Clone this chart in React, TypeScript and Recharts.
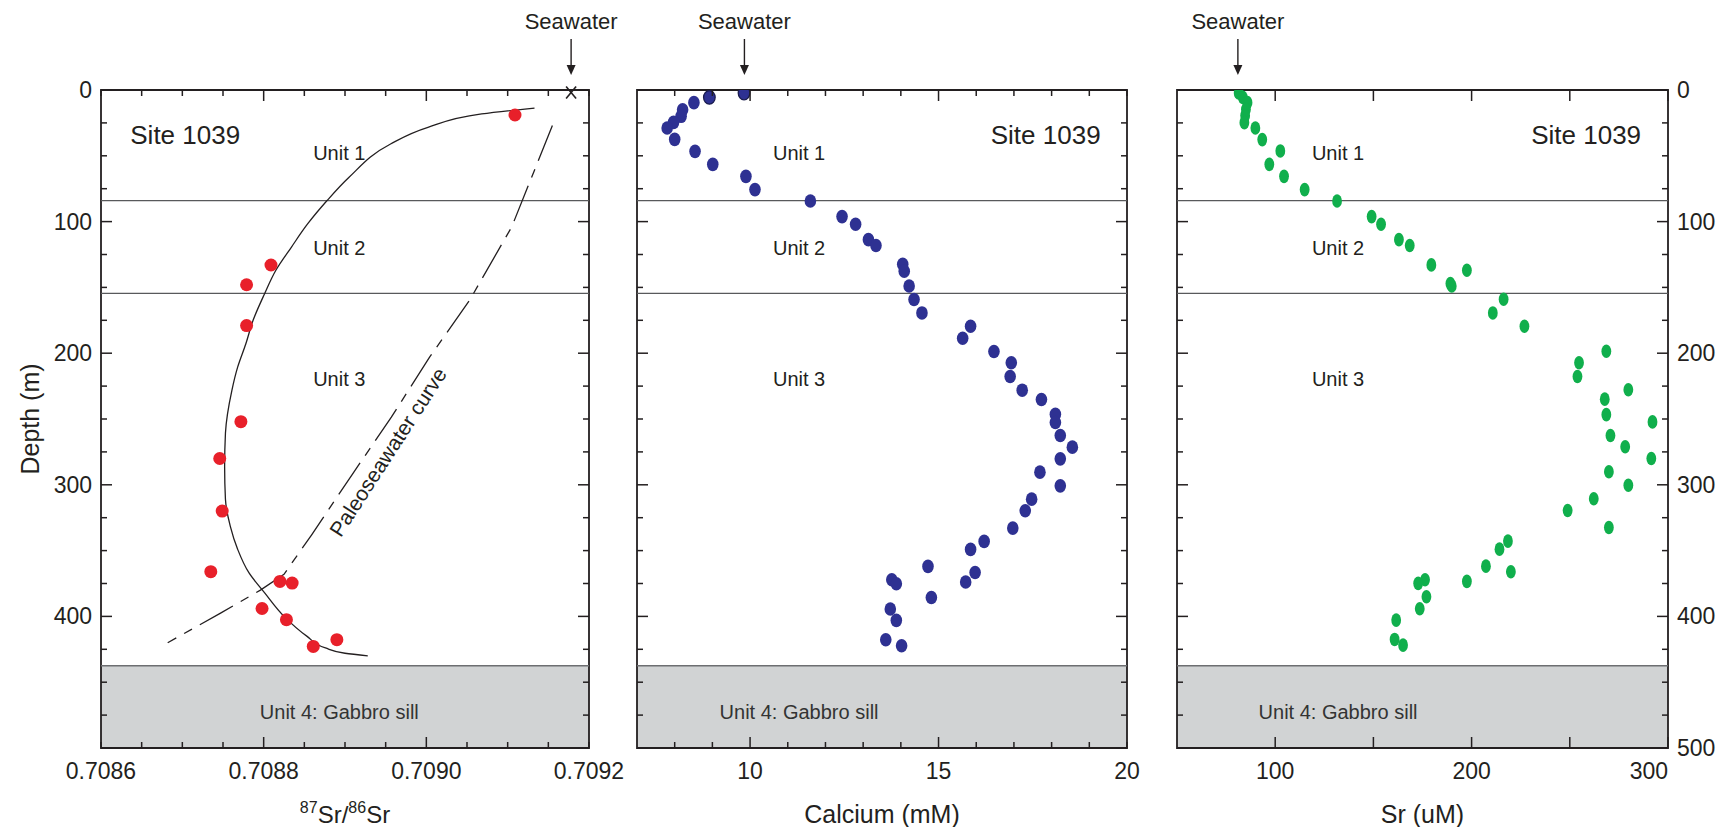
import React from "react";
import {
  ReferenceArea,
  ReferenceDot,
  ReferenceLine,
  Scatter,
  ScatterChart,
  XAxis,
  YAxis,
} from "recharts";

const INK = "#231F20";
const FONT = "'Liberation Sans', Arial, Helvetica, sans-serif";

// --- Site 1039 pore-water profiles (depth in mbsf) ---

const ratioDepth = [19, 133, 148, 179, 252, 280, 320, 366, 373.4, 374.7, 394, 402.5, 417.7, 422.8];
const ratioValue = [
  0.709109, 0.708809, 0.708779, 0.708779, 0.708772, 0.708746, 0.708749, 0.708735, 0.70882, 0.708835,
  0.708798, 0.708828, 0.70889, 0.708861,
];

// hand-drawn fit through the 87Sr/86Sr data
const fitDepth = [13.7, 18.2, 28.4, 41, 66.3, 84, 101.8, 119.5, 137, 155, 175, 193, 210.6, 228, 260.8, 286, 311, 331.6, 349, 367, 382, 400, 415, 424, 428, 430];
const fitValue = [
  0.709133, 0.709068, 0.709002, 0.708956, 0.708905, 0.708878, 0.708854, 0.708834, 0.708815,
  0.708801, 0.708787, 0.708778, 0.708768, 0.708761, 0.708753, 0.708752, 0.708753, 0.708759, 0.708768,
  0.708782, 0.708801, 0.708825, 0.708853, 0.708876, 0.7089, 0.708928,
];

// paleoseawater curve mapped onto depth
const paleoDepth = [27, 104, 160, 203, 248.6, 292, 338, 368, 380, 397.5, 420];
const paleoValue = [0.709155, 0.709105, 0.709053, 0.709004, 0.708957, 0.708909, 0.708859, 0.708825, 0.708796, 0.708747, 0.708682];

const caDepth = [
  2.3, 5.6, 9.6, 15, 20, 24.6, 28.9, 37.5, 46.6, 56.5, 65.6, 75.7, 84.3, 96.2, 102, 113.7, 118.2, 132.4,
  137.7, 148.9, 159.2, 169.4, 179.5, 188.6, 198.7, 207.3, 217.7, 228.1, 235.2, 246.4, 252.7, 262.5, 271.4,
  280.3, 290.4, 300.8, 310.9, 319.7, 332.9, 343, 349.1, 362, 366.6, 373.9, 372.2, 375.2, 385.6, 394.4, 403,
  417.7, 422.3,
];
const caValue = [
  9.84, 8.92, 8.51, 8.21, 8.17, 7.97, 7.8, 8.0, 8.54, 9.01, 9.89, 10.13, 11.6, 12.44, 12.8, 13.14, 13.34,
  14.05, 14.09, 14.22, 14.35, 14.56, 15.85, 15.64, 16.47, 16.93, 16.9, 17.22, 17.73, 18.1, 18.1, 18.23,
  18.55, 18.23, 17.69, 18.23, 17.47, 17.3, 16.97, 16.21, 15.85, 14.72, 15.97, 15.72, 13.76, 13.88, 14.81,
  13.72, 13.88, 13.6, 14.02,
];

const srDepth = [
  2.3, 5.6, 9.6, 14.7, 19.5, 24.8, 28.9, 37.7, 46.3, 56.5, 65.6, 75.7, 84.3, 96.2, 102, 113.7, 118.2, 132.9,
  137, 147.1, 148.9, 159, 169.4, 179.5, 198.5, 207.3, 217.7, 227.8, 234.9, 246.7, 252.2, 262.5, 271.1, 280,
  290.1, 300.3, 310.6, 319.5, 332.4, 342.8, 348.9, 361.8, 366.1, 373.4, 372.2, 374.9, 385.1, 394.2, 402.8,
  417.5, 421.8,
];
const srValue = [
  81.4, 83.5, 85.9, 85.1, 84.7, 84.3, 89.9, 93.4, 102.6, 97.0, 104.5, 115.0, 131.5, 149.1, 153.9, 163.0,
  168.5, 179.5, 197.6, 189.2, 189.9, 216.3, 210.8, 226.9, 268.6, 254.7, 253.9, 279.8, 267.8, 268.6, 292.1,
  270.7, 278.2, 291.5, 269.9, 279.8, 262.2, 248.9, 269.9, 218.5, 214.2, 207.3, 220.0, 197.6, 176.3, 172.8,
  177.0, 173.6, 161.6, 160.8, 165.1,
];

const seawaterRatio = 0.709178;
const seawaterCa = 9.85;
const seawaterSr = 81;

// lithologic unit boundaries (mbsf)
const unitBase = [84, 154.5];
const sillTop = 437.5;
const depthDomain = [0, 500];
const unitLabelDepth = [48, 120, 219.6];
const sillLabelDepth = 472.6;

// axis ticks
const depthTicks = [0, 25, 50, 75, 100, 125, 150, 175, 200, 225, 250, 275, 300, 325, 350, 375, 400, 425, 450, 475, 500];
const depthMajor = [0, 100, 200, 300, 400, 500];
const ratioTicks = [0.7086, 0.70865, 0.7087, 0.70875, 0.7088, 0.70885, 0.7089, 0.70895, 0.709, 0.70905, 0.7091, 0.70915, 0.7092];
const ratioMajor = [0.7088, 0.709];
const ratioLabels = [0.7086, 0.7088, 0.709, 0.7092];
const caTicks = [8, 9, 10, 11, 12, 13, 14, 15, 16, 17, 18, 19, 20];
const caMajor = [10, 15];
const caLabels = [10, 15, 20];
const srTicks = [100, 150, 200, 250, 300];
const srLabels = [100, 200, 300];

const pairs = (xs: number[], ys: number[]) => xs.map((x, i) => ({ x, y: ys[i] }));
const near = (v: number, list: number[]) => list.some((m) => Math.abs(m - v) < 1e-9);

// ---- tick renderers: inward marks drawn from the axis line ----
function xTick(
  side: "top" | "bottom",
  major: number[],
  labels: number[],
  fmt: (v: number) => string,
  endAligned: number[] = [],
) {
  return (p: any) => {
    const v = p.payload.value;
    const len = near(v, major) ? 11 : 6;
    const dir = side === "bottom" ? -1 : 1;
    return (
      <g>
        <line x1={p.x} x2={p.x} y1={p.y} y2={p.y + dir * len} stroke={INK} strokeWidth={1.5} />
        {side === "bottom" && near(v, labels) && (
          <text
            x={p.x}
            y={p.y + 31}
            textAnchor={near(v, endAligned) ? "end" : "middle"}
            fontSize={23}
            fontFamily={FONT}
            fill={INK}
          >
            {fmt(v)}
          </text>
        )}
      </g>
    );
  };
}

function yTick(side: "left" | "right", labels: number[]) {
  return (p: any) => {
    const v = p.payload.value;
    const len = near(v, depthMajor) ? 11 : 6;
    const dir = side === "left" ? 1 : -1;
    return (
      <g>
        <line x1={p.x} x2={p.x + dir * len} y1={p.y} y2={p.y} stroke={INK} strokeWidth={1.5} />
        {near(v, labels) && (
          <text
            x={side === "left" ? p.x - 9 : p.x + 9}
            y={p.y}
            dy="0.35em"
            textAnchor={side === "left" ? "end" : "start"}
            fontSize={23}
            fontFamily={FONT}
            fill={INK}
          >
            {v}
          </text>
        )}
      </g>
    );
  };
}

// ---- annotation helpers (anchored in data space) ----
function note(
  key: string,
  x: number,
  y: number,
  str: string,
  size: number,
  anchor: "start" | "middle" | "end",
  opts: { fill?: string; rotate?: number; dx?: number; dy?: number } = {},
) {
  const { fill = INK, rotate = 0, dx = 0, dy = 0 } = opts;
  return (
    <ReferenceDot
      key={key}
      x={x}
      y={y}
      ifOverflow="visible"
      shape={(p: any) => {
        const tx = p.cx + dx;
        const ty = p.cy + dy;
        return (
          <text
            x={tx}
            y={ty}
            dy="0.35em"
            fontSize={size}
            fontFamily={FONT}
            fill={fill}
            textAnchor={anchor}
            transform={rotate ? `rotate(${rotate} ${tx} ${ty})` : undefined}
          >
            {str}
          </text>
        );
      }}
    />
  );
}

function seawaterArrow(x: number, withCross: boolean) {
  return (
    <ReferenceDot
      x={x}
      y={0}
      ifOverflow="visible"
      shape={(p: any) => (
        <g>
          <text x={p.cx} y={p.cy - 61} textAnchor="middle" fontSize={22} fontFamily={FONT} fill={INK}>
            Seawater
          </text>
          <line x1={p.cx} x2={p.cx} y1={p.cy - 51} y2={p.cy - 22} stroke={INK} strokeWidth={1.4} />
          <path d={`M${p.cx - 4.5},${p.cy - 25} L${p.cx + 4.5},${p.cy - 25} L${p.cx},${p.cy - 15} Z`} fill={INK} />
          {withCross && (
            <g stroke={INK} strokeWidth={1.6}>
              <line x1={p.cx - 5} y1={p.cy - 3.5} x2={p.cx + 5} y2={p.cy + 8.5} />
              <line x1={p.cx + 5} y1={p.cy - 3.5} x2={p.cx - 5} y2={p.cy + 8.5} />
            </g>
          )}
        </g>
      )}
    />
  );
}

function xTitle(x: number, content: React.ReactNode) {
  return (
    <ReferenceDot
      x={x}
      y={500}
      ifOverflow="visible"
      shape={(p: any) => (
        <text x={p.cx} y={p.cy + 75} textAnchor="middle" fontSize={25} fontFamily={FONT} fill={INK}>
          {content}
        </text>
      )}
    />
  );
}

const RED = "#E8202A";
const BLUE = "#2E3192";
const GREEN = "#10AF4C";
const SILL = "#D1D3D4";

const dot = (fill: string, rx: number, ry: number) => (p: any) =>
  p.payload && p.payload.y < 6 && fill === BLUE ? (
    <ellipse cx={p.cx} cy={p.cy} rx={rx} ry={ry} fill={fill} stroke="#1B1D4F" strokeWidth={1.3} />
  ) : (
    <ellipse cx={p.cx} cy={p.cy} rx={rx} ry={ry} fill={fill} />
  );

const CHART_H = 827;
const MARGIN_TOP = 89;
const MARGIN_BOTTOM = 78;

function frame(xDomain: number[]) {
  return [
    <ReferenceArea
      key="sill"
      x1={xDomain[0]}
      x2={xDomain[1]}
      y1={sillTop}
      y2={500}
      fill={SILL}
      fillOpacity={1}
      stroke="none"
      ifOverflow="visible"
    />,
    <ReferenceLine key="sillTop" y={sillTop} stroke="#6D6E71" strokeWidth={1.5} />,
    ...unitBase.map((d) => <ReferenceLine key={`u${d}`} y={d} stroke="#58595B" strokeWidth={1.3} />),
  ];
}

function border(xDomain: number[]) {
  return (
    <ReferenceArea
      x1={xDomain[0]}
      x2={xDomain[1]}
      y1={0}
      y2={500}
      fill="none"
      stroke={INK}
      strokeWidth={1.8}
      ifOverflow="visible"
    />
  );
}

function unitNotes(prefix: string, x: number) {
  return [
    ...unitLabelDepth.map((d, i) => note(`${prefix}u${i}`, x, d, `Unit ${i + 1}`, 20, "middle")),
    note(`${prefix}sill`, x, sillLabelDepth, "Unit 4: Gabbro sill", 20, "middle", { fill: "#333333" }),
  ];
}

// shared axis props: zero-length built-in ticks, custom inward marks
const axisBase = {
  type: "number" as const,
  allowDataOverflow: true,
  interval: 0 as const,
  tickSize: 0,
  tickMargin: 0,
  tickLine: false,
  axisLine: false,
};

function RatioPanel() {
  const dom = [0.7086, 0.7092];
  const fmt = (v: number) => v.toFixed(4);
  return (
    <ScatterChart width={640} height={CHART_H} margin={{ top: MARGIN_TOP, right: 50, bottom: MARGIN_BOTTOM, left: 100 }}>
      <XAxis {...axisBase} dataKey="x" domain={dom} ticks={ratioTicks} height={1} tick={xTick("bottom", ratioMajor, ratioLabels, fmt)} />
      <XAxis {...axisBase} xAxisId="top" orientation="top" dataKey="x" domain={dom} ticks={ratioTicks} height={1} tick={xTick("top", ratioMajor, ratioLabels, fmt)} />
      <YAxis {...axisBase} dataKey="y" domain={depthDomain} reversed ticks={depthTicks} width={1} tick={yTick("left", [0, 100, 200, 300, 400])} />
      <YAxis {...axisBase} yAxisId="right" orientation="right" dataKey="y" domain={depthDomain} reversed ticks={depthTicks} width={1} tick={yTick("right", [])} />
      {frame(dom)}
      <Scatter
        data={pairs(paleoValue, paleoDepth)}
        shape={() => <g />}
        line={{ stroke: INK, strokeWidth: 1.3, strokeDasharray: "38 9 9 9" }}
        lineJointType="linear"
        isAnimationActive={false}
      />
      <Scatter
        data={pairs(fitValue, fitDepth)}
        shape={() => <g />}
        line={{ stroke: INK, strokeWidth: 1.3 }}
        lineJointType="monotoneY"
        isAnimationActive={false}
      />
      <Scatter data={pairs(ratioValue, ratioDepth)} shape={dot(RED, 6.5, 6.5)} isAnimationActive={false} />
      {border(dom)}
      {seawaterArrow(seawaterRatio, true)}
      {note("site", 0.708636, 34.2, "Site 1039", 26, "start")}
      {unitNotes("r", 0.708893)}
      {note("paleo", 0.708953, 275, "Paleoseawater curve", 21, "middle", { rotate: -57 })}
      {note("depth", 0.7086, 250, "Depth (m)", 25, "middle", { rotate: -90, dx: -71 })}
      {xTitle(0.7089, (
        <>
          <tspan fontSize={16} dy={-10}>87</tspan>
          <tspan fontSize={24} dy={10}>Sr/</tspan>
          <tspan fontSize={16} dy={-10}>86</tspan>
          <tspan fontSize={24} dy={10}>Sr</tspan>
        </>
      ))}
    </ScatterChart>
  );
}

function CalciumPanel() {
  const dom = [7, 20];
  const fmt = (v: number) => String(v);
  return (
    <ScatterChart width={560} height={CHART_H} margin={{ top: MARGIN_TOP, right: 32, bottom: MARGIN_BOTTOM, left: 36 }}>
      <XAxis {...axisBase} dataKey="x" domain={dom} ticks={caTicks} height={1} tick={xTick("bottom", caMajor, caLabels, fmt)} />
      <XAxis {...axisBase} xAxisId="top" orientation="top" dataKey="x" domain={dom} ticks={caTicks} height={1} tick={xTick("top", caMajor, caLabels, fmt)} />
      <YAxis {...axisBase} dataKey="y" domain={depthDomain} reversed ticks={depthTicks} width={1} tick={yTick("left", [])} />
      <YAxis {...axisBase} yAxisId="right" orientation="right" dataKey="y" domain={depthDomain} reversed ticks={depthTicks} width={1} tick={yTick("right", [])} />
      {frame(dom)}
      <Scatter data={pairs(caValue, caDepth)} shape={dot(BLUE, 5.8, 6.8)} isAnimationActive={false} />
      {border(dom)}
      {seawaterArrow(seawaterCa, false)}
      {note("site", 19.3, 34.2, "Site 1039", 26, "end")}
      {unitNotes("c", 11.3)}
      {xTitle(13.5, "Calcium (mM)")}
    </ScatterChart>
  );
}

function StrontiumPanel() {
  const dom = [50, 300];
  const fmt = (v: number) => String(v);
  return (
    <ScatterChart width={593} height={CHART_H} margin={{ top: MARGIN_TOP, right: 64, bottom: MARGIN_BOTTOM, left: 36 }}>
      <XAxis {...axisBase} dataKey="x" domain={dom} ticks={srTicks} height={1} tick={xTick("bottom", srTicks, srLabels, fmt, [300])} />
      <XAxis {...axisBase} xAxisId="top" orientation="top" dataKey="x" domain={dom} ticks={srTicks} height={1} tick={xTick("top", srTicks, srLabels, fmt)} />
      <YAxis {...axisBase} dataKey="y" domain={depthDomain} reversed ticks={depthTicks} width={1} tick={yTick("left", [])} />
      <YAxis {...axisBase} yAxisId="right" orientation="right" dataKey="y" domain={depthDomain} reversed ticks={depthTicks} width={1} tick={yTick("right", [0, 100, 200, 300, 400, 500])} />
      {frame(dom)}
      <Scatter data={pairs(srValue, srDepth)} shape={dot(GREEN, 4.9, 6.8)} isAnimationActive={false} />
      {border(dom)}
      {seawaterArrow(seawaterSr, false)}
      {note("site", 286.3, 34.2, "Site 1039", 26, "end")}
      {unitNotes("s", 132)}
      {xTitle(175, "Sr (uM)")}
    </ScatterChart>
  );
}

export default function App() {
  return (
    <div style={{ position: "absolute", left: 0, top: 0, width: 1733, height: 827, background: "#fff", fontFamily: FONT }}>
      <div style={{ position: "absolute", left: 0, top: 0 }}>
        <RatioPanel />
      </div>
      <div style={{ position: "absolute", left: 600, top: 0 }}>
        <CalciumPanel />
      </div>
      <div style={{ position: "absolute", left: 1140, top: 0 }}>
        <StrontiumPanel />
      </div>
    </div>
  );
}
